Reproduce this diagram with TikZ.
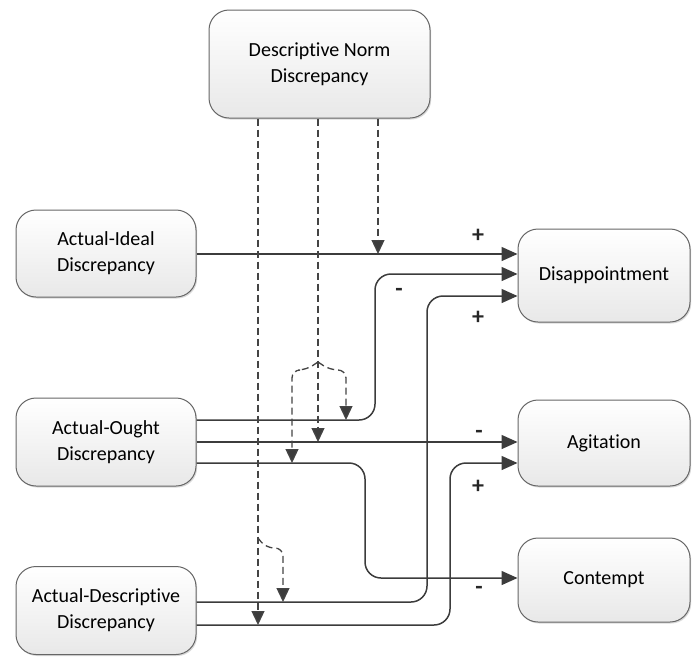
\documentclass[tikz,border=0pt]{standalone}
\usepackage{fontspec}
\setmainfont{Carlito}[Ligatures=NoCommon]
\usetikzlibrary{arrows.meta,shadows}
\definecolor{linec}{HTML}{3C3C3C}
\definecolor{dashc}{HTML}{444444}
\definecolor{boxborder}{HTML}{666666}
\tikzset{
  box/.style={draw=boxborder, line width=1pt, rounded corners=20pt,
    top color=white, bottom color=black!9, align=center, text=black,
    font=\fontsize{20}{26}\selectfont,
    drop shadow={shadow xshift=1.2pt, shadow yshift=-1.5pt, opacity=0.25, fill=black!60}},
  conn/.style={draw=linec, line width=1.5pt, rounded corners=16pt,
    -{Triangle[length=16pt,width=14pt]}},
  dconn/.style={draw=dashc, line width=1.3pt, dash pattern=on 7pt off 4pt,
    rounded corners=8pt, -{Triangle[length=14pt,width=13pt,fill=linec]}},
  sign/.style={font=\fontsize{24}{24}\selectfont\bfseries, text=black!85}
}
\begin{document}
\begin{tikzpicture}[x=1pt,y=-1pt]
\useasboundingbox (0,0) rectangle (693,657);
% nodes
\node[box, minimum width=221pt, minimum height=108pt] (dn) at (319.5,64) {Descriptive Norm\\Discrepancy};
\node[box, minimum width=180pt, minimum height=87pt] (ai) at (106,253.5) {Actual-Ideal\\Discrepancy};
\node[box, minimum width=180pt, minimum height=88pt] (ao) at (106,442) {Actual-Ought\\Discrepancy};
\node[box, minimum width=180pt, minimum height=88pt] (ad) at (106,610.5) {Actual-Descriptive\\Discrepancy};
\node[box, minimum width=172pt, minimum height=93pt] (dis) at (604,275.5) {Disappointment};
\node[box, minimum width=172pt, minimum height=86pt] (agi) at (604,443) {Agitation};
\node[box, minimum width=172pt, minimum height=84pt] (con) at (604,580) {Contempt};
% coordinates
\coordinate (ai1) at (ai.east |- 0,254);
\coordinate (dis1) at (dis.west |- 0,254);
\coordinate (ao1) at (ao.east |- 0,420);
\coordinate (dis2) at (dis.west |- 0,274);
\coordinate (ao2) at (ao.east |- 0,442);
\coordinate (agi1) at (agi.west |- 0,442);
\coordinate (ao3) at (ao.east |- 0,463);
\coordinate (con1) at (con.west |- 0,578);
\coordinate (ad1) at (ad.east |- 0,602);
\coordinate (dis3) at (dis.west |- 0,296);
\coordinate (ad2) at (ad.east |- 0,625);
\coordinate (agi2) at (agi.west |- 0,463);
% solid connectors
\draw[conn] (ai1) -- (dis1);
\draw[conn] (ao1) -- (375,420) -- (375,274) -- (dis2);
\draw[conn] (ao2) -- (agi1);
\draw[conn] (ao3) -- (365,463) -- (365,578) -- (con1);
\draw[conn] (ad1) -- (427,602) -- (427,296) -- (dis3);
\draw[conn] (ad2) -- (450,625) -- (450,463) -- (agi2);
% dashed connectors
\coordinate (dA) at (dn.south -| 258,0);
\coordinate (dB) at (dn.south -| 318,0);
\coordinate (dC) at (dn.south -| 378,0);
\draw[dconn] (dA) -- (258,625);
\draw[dconn] (258,538) -- (266,548) -- (283,548) -- (283,602);
\draw[dconn] (dB) -- (318,442);
\draw[dconn] (318,362) -- (306,370) -- (292,370) -- (292,463);
\draw[dconn] (318,362) -- (330,370) -- (346,370) -- (346,420);
\draw[dconn] (dC) -- (378,254);
% signs
\node[sign] (s1) at (478,236) {+};
\node[sign] (s2) at (399,292) {-};
\node[sign] (s3) at (478,318) {+};
\node[sign] (s4) at (479,434) {-};
\node[sign] (s5) at (478,487) {+};
\node[sign] (s6) at (479,590) {-};
\end{tikzpicture}
\end{document}
